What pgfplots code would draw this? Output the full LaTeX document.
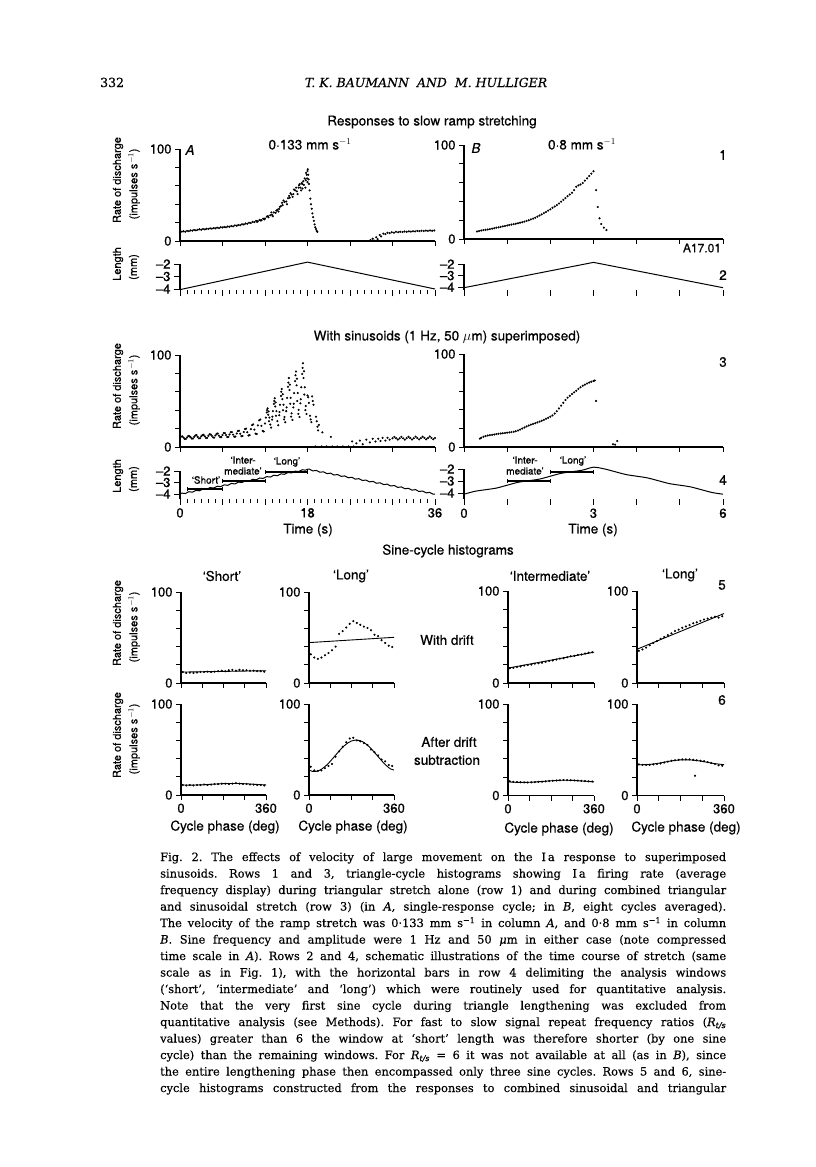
\documentclass[border=0pt]{standalone}
\usepackage{pgfplots}
\pgfplotsset{compat=1.18}
\usepackage{fontspec}
\setsansfont{TeX Gyre Heros}[FakeBold=0.5]
\newfontfamily\capfont{DejaVu Serif}[FakeBold=0.3]
\newcommand\ti{\fontsize{13.5}{14}\selectfont\sffamily}
\newcommand\sm{\fontsize{10}{11}\selectfont\sffamily}
\newcommand\yl{\fontsize{11}{12}\selectfont\sffamily}
\newcommand\capline[2]{\node[anchor=base west, inner sep=0pt] at (160pt,-#1pt) {\capfont\fontsize{11.4}{14}\selectfont\frenchspacing\hbox to 566pt{#2}};}
\pgfplotsset{
  base/.style={scale only axis, enlargelimits=false, clip=false, anchor=south west,
    axis x line*=bottom, axis y line*=left,
    axis line style={-, line width=1.1pt},
    every tick/.style={black, line width=1pt},
    major tick length=5pt, minor tick length=3.5pt, tick align=outside,
    tick label style={font=\fontsize{13}{13}\selectfont\sffamily},
    xticklabels={}},
  rate/.style={base, ymin=0, ymax=100, ytick={0,20,40,60,80,100}, yticklabels={0,,,,,100}},
  len/.style={base, ymax=-2, ytick={-4,-3,-2}, yticklabels={–4,–3,–2},
    x axis line style={draw=none}, major tick length=6pt, minor tick length=4pt},
  hist/.style={rate, xmin=0, xmax=360, width=85pt, height=91pt, xtick={0,90,180,270,360}},
  dots/.style={only marks, mark=*, mark size=0.85pt, mark options={draw=none, fill=black}},
  fit/.style={black, line width=0.9pt, mark=none},
}
\begin{document}
\begin{tikzpicture}[x=1pt,y=1pt]
\fill[white] (0,0) rectangle (816,-1167);
% header
\node[anchor=base west, inner sep=0pt] at (100pt,-87pt) {\capfont\fontsize{12.5}{14}\selectfont 332};
\node[anchor=base, inner sep=0pt] at (426pt,-87pt) {\capfont\itshape\fontsize{12.5}{14}\selectfont T. K. BAUMANN\ \ AND\ \ M. HULLIGER};
% titles
\node at (432pt,-122pt) {\ti Responses to slow ramp stretching};
\node at (310pt,-144pt) {\ti 0·133 mm s$^{-1}$};
\node at (582pt,-144pt) {\ti 0·8 mm s$^{-1}$};
\node at (190pt,-150pt) {\ti\itshape A};
\node at (476pt,-148pt) {\ti\itshape B};
\node at (723pt,-155pt) {\ti 1};
\node at (723pt,-275pt) {\ti 2};
\node at (702pt,-248pt) {\fontsize{12}{13}\selectfont\sffamily A17.01};
\node at (447pt,-337pt) {\ti With sinusoids (1 Hz, 50 $\mu$m) superimposed)};
\node at (723pt,-362pt) {\ti 3};
\node at (723pt,-480pt) {\ti 4};
\node at (308pt,-530pt) {\ti Time (s)};
\node at (593pt,-530pt) {\ti Time (s)};
\node at (448pt,-551pt) {\ti Sine-cycle histograms};
\node at (222pt,-576pt) {\ti ‘Short’};
\node at (351pt,-576pt) {\ti ‘Long’};
\node at (550pt,-576pt) {\ti ‘Intermediate’};
\node at (680pt,-575pt) {\ti ‘Long’};
\node at (722pt,-585pt) {\ti 5};
\node at (722pt,-700pt) {\ti 6};
\node at (447pt,-640pt) {\ti With drift};
\node at (449pt,-742pt) {\ti After drift};
\node at (447pt,-760pt) {\ti subtraction};
\node at (225pt,-827pt) {\ti Cycle phase (deg)};
\node at (353pt,-827pt) {\ti Cycle phase (deg)};
\node at (559pt,-829pt) {\ti Cycle phase (deg)};
\node at (686pt,-828pt) {\ti Cycle phase (deg)};
% bar labels
\node at (206pt,-480pt) {\sm ‘Short’};
\node at (243pt,-460pt) {\sm ‘Inter-};
\node at (243pt,-471pt) {\sm mediate’};
\node at (287pt,-462pt) {\sm ‘Long’};
\node at (525pt,-460pt) {\sm ‘Inter-};
\node at (525pt,-471pt) {\sm mediate’};
\node at (573pt,-461pt) {\sm ‘Long’};
% y labels
\node[rotate=90] at (118pt,-180pt) {\yl Rate of discharge};
\node[rotate=90] at (134pt,-184pt) {\yl (impulses s$^{-1}$)};
\node[rotate=90] at (118pt,-264pt) {\yl Length};
\node[rotate=90] at (134pt,-267pt) {\yl (mm)};
\node[rotate=90] at (118pt,-386pt) {\yl Rate of discharge};
\node[rotate=90] at (134pt,-390pt) {\yl (impulses s$^{-1}$)};
\node[rotate=90] at (118pt,-476pt) {\yl Length};
\node[rotate=90] at (134pt,-479pt) {\yl (mm)};
\node[rotate=90] at (118pt,-623pt) {\yl Rate of discharge};
\node[rotate=90] at (134pt,-627pt) {\yl (impulses s$^{-1}$)};
\node[rotate=90] at (118pt,-735pt) {\yl Rate of discharge};
\node[rotate=90] at (134pt,-739pt) {\yl (impulses s$^{-1}$)};

% ---------- Row 1 A
\begin{axis}[rate, at={(180pt,-241pt)}, width=255pt, height=92pt, xmin=0, xmax=36, xtick={0,6,...,36}]
\addplot[dots] coordinates {(0,9.5)(0.25,10.2)(0.5,10.6)(0.75,10.1)(1,11)(1.25,10.7)(1.5,11.5)(1.75,11.2)(2,12)(2.25,11.6)(2.5,12.3)(2.75,12.8)(3,12.2)(3.25,13)(3.5,12.6)(3.75,13.3)(4,13.1)(4.25,13.8)(4.5,13.4)(4.75,14.1)(5,13.7)(5.25,14.5)(5.5,14.2)(5.75,15)(6,14.6)(6.25,15.3)(6.5,15)(6.75,15.8)(7,15.5)(7.25,16.3)(7.5,16)(7.75,16.9)(8,16.6)(8.25,17.5)(8.5,17.2)(8.75,18.2)(9,18)(9.25,19)(9.5,18.7)(9.75,19.8)(10,19.6)(10.25,20.8)(10.5,20.5)(10.75,21.8)(11,21.6)(11.25,23)(11.5,22.6)(11.75,24.3)(12,24.5)(12.25,26.5)(12.5,25.8)(12.75,28)(13,28.5)(13.25,31)(13.5,30.5)(13.75,34)(14,35)(14.25,38)(14.5,39)(14.75,42.5)(15,43)(15.25,46.5)(15.5,47)(15.75,50.5)(16,51)(16.25,55)(16.5,54)(16.75,58)(17,58)(17.25,62)(17.5,61)(17.75,66)(18,64)
(14.1,37)(14.6,44)(15.1,40)(15.4,49)(15.9,48)(16.1,56)(16.4,58)(16.6,51)(16.9,62)(17.1,55)(17.3,57)(17.4,65)(17.6,68)(17.7,58)(17.9,72)(18,76)(17.8,74)(17.95,68)(18.05,78)(13.6,33)(13.9,32)(13.1,27)(12.9,31)(12.4,27)(11.9,23.5)(11.4,22.2)(10.9,20.8)(14.4,41.5)(15.6,52)(16.8,60.5)(17.2,63)
(18.1,72)(18.15,67)(18.2,62)(18.3,55)(18.4,46)(18.5,40)(18.6,35)(18.7,30)(18.8,26)(18.9,22)(19,18)(19.1,15)(19.2,13)(19.3,11)(19.4,10)
(26.9,1)(27.2,2.5)(27.4,0.5)(27.7,4)(27.9,2)(28.2,6.5)(28.4,5)(28.7,8)(29,7.5)(29.3,9)(29.6,8.5)(29.9,9.5)(30.2,9)(30.5,10)(30.8,9.5)(31.1,10)(31.4,9.8)(31.7,10.3)(32,10)(32.3,10.5)(32.6,10.2)(32.9,10.6)(33.2,10.4)(33.5,11)(33.8,10.7)(34.1,11.2)(34.4,10.9)(34.7,11.3)(35,11)(35.3,11.5)(35.6,11.1)(35.9,11.4)};
\end{axis}
% ---------- Row 1 B
\begin{axis}[rate, at={(464pt,-239pt)}, width=259pt, height=94pt, xmin=0, xmax=6, xtick={0,...,6}]
\addplot[dots] coordinates {(0.30,8)(0.35,8.5)(0.40,9)(0.45,9.4)(0.50,9.8)(0.55,10.2)(0.60,10.6)(0.65,11)(0.70,11.5)(0.75,12)(0.80,12.4)(0.85,12.9)(0.90,13.4)(0.95,13.9)(1.00,14.4)(1.05,14.9)(1.10,15.3)(1.15,15.8)(1.20,16.3)(1.25,16.8)(1.30,17.3)(1.35,17.8)(1.40,18.5)(1.45,19.2)(1.50,20)(1.55,20.8)(1.60,21.7)(1.65,22.7)(1.70,23.8)(1.75,25)(1.80,26.2)(1.85,27.5)(1.90,28.8)(1.95,30.2)(2.00,31.6)(2.05,33.2)(2.10,34.6)(2.15,36)(2.20,37.8)(2.25,39.7)(2.30,41.6)(2.35,43.5)(2.40,45.5)(2.45,47.3)(2.50,49.2)(2.55,52)(2.60,55.5)(2.65,57)(2.70,58)(2.75,59.5)(2.80,62)(2.85,64.5)(2.90,67)(2.95,69.5)(3.00,72)
(3.06,52)(3.10,34)(3.14,22)(3.18,16)(3.24,12)(3.30,9.5)};
\end{axis}
% ---------- Row 2 A
\begin{axis}[len, at={(180pt,-290.25pt)}, width=255pt, height=26.25pt, xmin=0, xmax=36, ymin=-4.1, xtick={0,6,...,36}, minor x tick num=5]
\addplot[black, line width=1pt] coordinates {(0,-4.05)(18,-1.85)(36,-4.0)};
\end{axis}
% ---------- Row 2 B
\begin{axis}[len, at={(464pt,-290pt)}, width=259pt, height=25.9pt, xmin=0, xmax=6, ymin=-4.25, xtick={0,...,6}]
\addplot[black, line width=1pt] coordinates {(0,-4.05)(3,-1.85)(6,-4.05)};
\end{axis}
% ---------- Row 3 A
\begin{axis}[rate, at={(180pt,-447pt)}, width=255pt, height=92pt, xmin=0, xmax=36, xtick={0,6,...,36}]
\addplot[dots] coordinates {(0,10)(0.17,11.3)(0.33,11.5)(0.5,10.2)(0.67,8.8)(0.83,8.9)
(1,10.4)(1.17,11.9)(1.33,11.7)(1.5,10.6)(1.67,9.1)(1.83,9.3)
(2,11.1)(2.17,12.6)(2.33,12.9)(2.5,11)(2.67,9.4)(2.83,9.6)
(3,11.6)(3.17,13.1)(3.33,13.3)(3.5,11.6)(3.67,9.9)(3.83,10)
(4,12.1)(4.17,13.8)(4.33,13.6)(4.5,12.1)(4.67,10.4)(4.83,10.2)
(5,12.6)(5.17,14.3)(5.33,14.6)(5.5,12.4)(5.67,10.7)(5.83,10.8)
(6,13.1)(6.17,15.3)(6.33,15.1)(6.5,13.1)(6.67,10.9)(6.83,11)
(7,13.6)(7.17,16)(7.33,16.2)(7.5,13.4)(7.67,11.2)(7.83,11.3)
(8,14.7)(8.17,17.4)(8.33,17.6)(8.5,14.4)(8.67,11.8)(8.83,12)
(9,16.2)(9.17,19.6)(9.33,20)(9.5,16)(9.67,12.6)(9.83,12.8)
(10,19.4)(10.17,23.8)(10.33,24.6)(10.5,19)(10.67,14.5)(10.83,14.2)
(11,23.5)(11.17,29)(11.33,30)(11.5,23)(11.67,17.5)(11.83,16.8)
(12,25.5)(12.12,32)(12.25,37.6)(12.37,42)(12.5,38.7)(12.62,32)(12.75,24.4)(12.87,21.1)
(13,29.8)(13.12,39)(13.25,46.8)(13.37,53)(13.5,48.4)(13.62,39)(13.75,28.2)(13.87,23.6)
(14,34.5)(14.12,45.9)(14.25,55.4)(14.37,63)(14.5,57.3)(14.62,45.9)(14.75,32.6)(14.87,26.9)
(15,39)(15.12,53.4)(15.25,65.4)(15.37,75)(15.5,67.8)(15.62,53.4)(15.75,36.6)(15.87,29.4)
(16,43)(16.12,58.6)(16.25,71.6)(16.37,82)(16.5,74.2)(16.62,58.6)(16.75,40.4)(16.87,32.6)
(17,47.5)(17.12,64.9)(17.25,79.4)(17.37,91)(17.5,82.3)(17.62,64.9)(17.75,44.6)(17.87,35.9)
(12.3,40)(12.45,35)(12.55,28)(13.3,50)(13.45,44)(13.55,34)(13.05,33)
(14.3,60)(14.45,52)(14.55,40)(14.05,38)(14.7,30)(15.3,70)(15.45,62)(15.55,47)(15.05,43)(15.7,33)
(16.3,78)(16.45,67)(16.55,50)(16.05,47)(16.7,36)(17.3,86)(17.45,75)(17.55,57)(17.05,52)(17.7,40)
(18,56)(18.1,54)(18.2,48)(18.35,34)(18.45,30)(18.55,27)(18.65,55)(18.75,50)(18.85,46)(19.2,33)(19.3,28)(19.4,22)(19.5,18)(19.6,24)(20.1,16)(21.3,11)
(19.1,0.6)(20,0.6)(20.7,0.6)(21.5,0.6)(22.2,0.6)(23,0.6)(23.8,0.6)(24.5,0.6)
(24.3,6)(24.9,4)(25.4,7)(25.8,3)(26.3,8)(26.8,5)(27.2,9)(27.6,6)(28,9)(28.3,6.5)(28.6,10)(29,7)(29.3,10)(29.6,8)
(30,9.5)(30.25,11)(30.5,9.6)(30.75,8.1)(31,9.4)(31.25,11.1)(31.5,9.5)(31.75,8)(32,9.6)(32.25,11.2)(32.5,9.7)(32.75,8.2)(33,9.5)(33.25,11.3)(33.5,9.8)(33.75,8.3)(34,9.7)(34.25,11.2)(34.5,9.9)(34.75,8.4)(35,9.8)(35.25,11.4)(35.5,9.9)(35.75,8.5)(36,9.8)};
\end{axis}
% ---------- Row 3 B
\begin{axis}[rate, at={(464pt,-447pt)}, width=259pt, height=93pt, xmin=0, xmax=6, xtick={0,...,6}]
\addplot[dots] coordinates {(0.37,9)(0.40,10)(0.45,11)(0.50,11.8)(0.55,12.3)(0.60,12.7)(0.65,13.1)(0.70,13.5)(0.75,13.9)(0.80,14.2)(0.85,14.5)(0.90,14.8)(0.95,15.1)(1.00,15.4)(1.05,15.7)(1.10,16)(1.15,16.4)(1.20,17)(1.25,17.8)(1.30,18.8)(1.35,19.9)(1.40,21)(1.45,22.1)(1.50,23.1)(1.55,24)(1.60,24.8)(1.65,25.6)(1.70,26.4)(1.75,27.3)(1.80,28.2)(1.85,29.2)(1.90,30.3)(1.95,31.4)(2.00,32.6)(2.05,34)(2.10,36)(2.15,38.5)(2.20,41.5)(2.25,44.5)(2.30,47.5)(2.35,50.5)(2.40,53)(2.45,55)(2.50,57)(2.55,58.8)(2.60,60.5)(2.65,62.5)(2.70,64.2)(2.75,65.8)(2.80,67)(2.85,68.2)(2.90,69.3)(2.95,70.2)(3.00,71)(3.03,71.5)
(3.06,49.5)(3.45,3)(3.5,2.5)(3.55,6.5)};
\end{axis}
% ---------- Row 4 A
\begin{axis}[len, at={(180pt,-498.6pt)}, width=255pt, height=27.6pt, xmin=0, xmax=36, ymin=-4.4, xtick={0,6,...,36}, minor x tick num=5, xticklabels={0,,,18,,,36}]
\addplot[black, line width=1pt] coordinates {(0,-4)(0.25,-3.920)(0.75,-3.960)(1.25,-3.801)(1.75,-3.841)(2.25,-3.681)(2.75,-3.721)(3.25,-3.562)(3.75,-3.602)(4.25,-3.442)(4.75,-3.482)(5.25,-3.323)(5.75,-3.363)(6.25,-3.204)(6.75,-3.244)(7.25,-3.084)(7.75,-3.124)(8.25,-2.965)(8.75,-3.005)(9.25,-2.845)(9.75,-2.885)(10.25,-2.726)(10.75,-2.766)(11.25,-2.607)(11.75,-2.647)(12.25,-2.487)(12.75,-2.527)(13.25,-2.368)(13.75,-2.408)(14.25,-2.248)(14.75,-2.288)(15.25,-2.129)(15.75,-2.169)(16.25,-2.010)(16.75,-2.050)(17.25,-1.890)(17.75,-1.930)(18,-1.85)(18.25,-1.830)(18.75,-1.990)(19.25,-1.949)(19.75,-2.109)(20.25,-2.069)(20.75,-2.229)(21.25,-2.188)(21.75,-2.348)(22.25,-2.308)(22.75,-2.468)(23.25,-2.427)(23.75,-2.587)(24.25,-2.546)(24.75,-2.706)(25.25,-2.666)(25.75,-2.826)(26.25,-2.785)(26.75,-2.945)(27.25,-2.905)(27.75,-3.065)(28.25,-3.024)(28.75,-3.184)(29.25,-3.143)(29.75,-3.303)(30.25,-3.263)(30.75,-3.423)(31.25,-3.382)(31.75,-3.542)(32.25,-3.502)(32.75,-3.662)(33.25,-3.621)(33.75,-3.781)(34.25,-3.740)(34.75,-3.900)(35.25,-3.860)(35.75,-4.020)(36,-4.0)};
\addplot[black, line width=2pt] coordinates {(1,-3.565)(6,-3.565)};
\addplot[black, line width=2pt] coordinates {(6,-2.87)(12,-2.87)};
\addplot[black, line width=2pt] coordinates {(12,-2.09)(18,-2.09)};
\addplot[black, line width=1pt] coordinates {(1,-3.38)(1,-3.75)};
\addplot[black, line width=1pt] coordinates {(6,-3.38)(6,-3.75)};
\addplot[black, line width=1pt] coordinates {(6,-2.69)(6,-3.05)};
\addplot[black, line width=1pt] coordinates {(12,-2.69)(12,-3.05)};
\addplot[black, line width=1pt] coordinates {(12,-1.91)(12,-2.27)};
\addplot[black, line width=1pt] coordinates {(18,-1.91)(18,-2.27)};
\end{axis}
% ---------- Row 4 B
\begin{axis}[len, at={(464pt,-499pt)}, width=259pt, height=30pt, xmin=0, xmax=6, ymin=-4.5, xtick={0,...,6}, xticklabels={0,,,3,,,6}]
\addplot[black, line width=1pt, smooth] coordinates {(0,-4.1)(0.25,-3.86)(0.5,-3.725)(0.75,-3.59)(1.0,-3.35)(1.25,-3.11)(1.5,-2.975)(1.75,-2.84)(2.0,-2.6)(2.25,-2.36)(2.5,-2.225)(2.75,-2.09)(3.0,-1.85)(3.25,-1.99)(3.5,-2.225)(3.75,-2.46)(4.0,-2.6)(4.25,-2.74)(4.5,-2.975)(4.75,-3.21)(5.0,-3.35)(5.25,-3.49)(5.5,-3.725)(5.75,-3.96)(6.0,-4.1)};
\addplot[black, line width=2pt] coordinates {(1,-3.0)(2,-3.0)};
\addplot[black, line width=2pt] coordinates {(2,-2.25)(3,-2.25)};
\addplot[black, line width=1pt] coordinates {(1,-2.83)(1,-3.17)};
\addplot[black, line width=1pt] coordinates {(2,-2.83)(2,-3.17)};
\addplot[black, line width=1pt] coordinates {(2,-2.08)(2,-2.42)};
\addplot[black, line width=1pt] coordinates {(3,-2.08)(3,-2.42)};
\end{axis}
% ---------- Row 5
\begin{axis}[hist, at={(181pt,-683pt)}]
\addplot[dots] coordinates {(7.5,12)(22.5,11)(37.5,11.5)(52.5,11)(67.5,11.5)(82.5,12)(97.5,12)(112.5,12.5)(127.5,12)(142.5,12.5)(157.5,13)(172.5,13.5)(187.5,13)(202.5,14)(217.5,14.5)(232.5,13.5)(247.5,14.5)(262.5,14)(277.5,14)(292.5,13.5)(307.5,13.5)(322.5,13)(337.5,13)(352.5,12.5)};
\addplot[fit] coordinates {(0,12)(360,13.5)};
\end{axis}
\begin{axis}[hist, at={(309pt,-683pt)}]
\addplot[dots] coordinates {(7.5,31.5)(22.5,28)(37.5,26.5)(52.5,28)(67.5,30.5)(82.5,33)(97.5,36)(112.5,40)(127.5,54)(142.5,57)(157.5,61)(172.5,65)(187.5,68)(202.5,66)(217.5,64)(232.5,62)(247.5,60.5)(262.5,58)(277.5,53)(292.5,51.5)(307.5,47)(322.5,44)(337.5,41)(352.5,39.5)};
\addplot[fit] coordinates {(0,44.4)(360,50.2)};
\end{axis}
\begin{axis}[hist, at={(508pt,-683pt)}, width=86pt, height=92pt]
\addplot[dots] coordinates {(7.5,16)(22.5,16.5)(37.5,17.5)(52.5,18)(67.5,19)(82.5,19.5)(97.5,20)(112.5,21)(127.5,21.5)(142.5,22)(157.5,23)(172.5,24)(187.5,24.5)(202.5,25.5)(217.5,26.5)(232.5,27)(247.5,28)(262.5,29)(277.5,29.5)(292.5,30.5)(307.5,31)(322.5,32)(337.5,33)(352.5,33.5)};
\addplot[fit] coordinates {(0,16.2)(360,33.5)};
\end{axis}
\begin{axis}[hist, at={(637pt,-683pt)}, width=87pt, height=92pt]
\addplot[dots] coordinates {(7.5,35)(22.5,36.5)(37.5,38.5)(52.5,41)(67.5,43.5)(82.5,45.5)(97.5,48)(112.5,50)(127.5,52)(142.5,54)(157.5,56.5)(172.5,58)(187.5,60)(202.5,61.5)(217.5,63)(232.5,65)(247.5,66)(262.5,67.5)(277.5,69)(292.5,70)(307.5,71)(322.5,72)(337.5,71)(352.5,72.5)};
\addplot[fit] coordinates {(0,36.7)(360,75.5)};
\end{axis}
% ---------- Row 6
\begin{axis}[hist, at={(181pt,-795pt)}, xticklabels={0,,,,360}]
\addplot[dots] coordinates {(7.5,11)(22.5,10.5)(37.5,11)(52.5,10.5)(67.5,11)(82.5,11)(97.5,11.5)(112.5,11)(127.5,11.5)(142.5,12)(157.5,12)(172.5,12.5)(187.5,12.5)(202.5,12)(217.5,12.5)(232.5,13)(247.5,12.5)(262.5,12)(277.5,12)(292.5,11.5)(307.5,11.5)(322.5,11)(337.5,11)(352.5,10.5)};
\addplot[fit, smooth] coordinates {(0,11.1)(45,10.9)(90,11.2)(135,11.9)(180,12.5)(225,12.7)(270,12.4)(315,11.7)(360,11.1)};
\end{axis}
\begin{axis}[hist, at={(309pt,-795pt)}, xticklabels={0,,,,360}]
\addplot[dots] coordinates {(7.5,31)(22.5,27)(37.5,26.5)(52.5,27)(67.5,29.5)(82.5,32)(97.5,34)(112.5,42)(127.5,48)(142.5,53)(157.5,58)(172.5,62)(187.5,63)(202.5,60)(217.5,59)(232.5,57)(247.5,55)(262.5,50)(277.5,47)(292.5,43.5)(307.5,39)(322.5,37)(337.5,33)(352.5,32)};
\addplot[fit, smooth] coordinates {(0,27.5)(15,25.9)(30,25.9)(45,27.2)(60,29.7)(75,33)(90,37)(105,41.5)(120,46)(135,50.4)(150,54.2)(165,57.3)(180,59.4)(195,60.3)(210,60.1)(225,58.8)(240,56.3)(255,53)(270,49)(285,44.5)(300,40)(315,35.6)(330,31.8)(345,28.7)(360,27.5)};
\end{axis}
\begin{axis}[hist, at={(508pt,-795.5pt)}, width=86pt, height=91.5pt, xticklabels={0,,,,360}]
\addplot[dots] coordinates {(7.5,15.5)(22.5,15)(37.5,14.8)(52.5,14.5)(67.5,14.3)(82.5,14.3)(97.5,14.4)(112.5,14.6)(127.5,14.9)(142.5,15.1)(157.5,15.4)(172.5,15.8)(187.5,16.1)(202.5,16.4)(217.5,16.6)(232.5,16.9)(247.5,16.8)(262.5,16.7)(277.5,16.5)(292.5,16.3)(307.5,16)(322.5,15.8)(337.5,15.5)(352.5,15.3)};
\addplot[fit, smooth] coordinates {(0,14.9)(45,14.3)(90,14.5)(135,15.2)(180,16.1)(225,16.7)(270,16.5)(315,15.8)(360,14.9)};
\end{axis}
\begin{axis}[hist, at={(637pt,-795.5pt)}, width=87pt, height=91.5pt, xticklabels={0,,,,360}]
\addplot[dots] coordinates {(7.5,34)(22.5,33.5)(37.5,33.5)(52.5,33.5)(67.5,34)(82.5,34.5)(97.5,35)(112.5,36)(127.5,37)(142.5,38)(157.5,38.5)(172.5,39)(187.5,39.5)(202.5,39.5)(217.5,39.5)(232.5,39)(247.5,38.5)(262.5,38)(277.5,37.5)(292.5,36.5)(307.5,35.5)(322.5,34.5)(337.5,33)(352.5,32.5)(240,21.5)};
\addplot[fit, smooth] coordinates {(0,33.7)(45,33.8)(90,35.3)(135,37.5)(180,38.9)(225,38.8)(270,37.3)(315,35.1)(360,33.7)};
\end{axis}
% ---------- caption
\capline{861}{Fig. 2. The effects of velocity of large movement on the I\,a response to superimposed}
\capline{877.5}{sinusoids. Rows 1 and 3, triangle-cycle histograms showing I\,a firing rate (average}
\capline{894}{frequency display) during triangular stretch alone (row 1) and during combined triangular}
\capline{910.5}{and sinusoidal stretch (row 3) (in \textit{A}, single-response cycle; in \textit{B}, eight cycles averaged).}
\capline{927}{The velocity of the ramp stretch was 0·133 mm s\textsuperscript{−1} in column \textit{A}, and 0·8 mm s\textsuperscript{−1} in column}
\capline{943.5}{\textit{B}. Sine frequency and amplitude were 1 Hz and 50 \textit{μ}m in either case (note compressed}
\capline{960}{time scale in \textit{A}). Rows 2 and 4, schematic illustrations of the time course of stretch (same}
\capline{976.5}{scale as in Fig. 1), with the horizontal bars in row 4 delimiting the analysis windows}
\capline{993}{(‘short’, ‘intermediate’ and ‘long’) which were routinely used for quantitative analysis.}
\capline{1009.5}{Note that the very first sine cycle during triangle lengthening was excluded from}
\capline{1026}{quantitative analysis (see Methods). For fast to slow signal repeat frequency ratios (\textit{R}\textsubscript{\textit{t/s}}}
\capline{1042.5}{values) greater than 6 the window at ‘short’ length was therefore shorter (by one sine}
\capline{1059}{cycle) than the remaining windows. For \textit{R}\textsubscript{\textit{t/s}} = 6 it was not available at all (as in \textit{B}), since}
\capline{1075.5}{the entire lengthening phase then encompassed only three sine cycles. Rows 5 and 6, sine-}
\capline{1092}{cycle histograms constructed from the responses to combined sinusoidal and triangular}
\end{tikzpicture}
\end{document}
